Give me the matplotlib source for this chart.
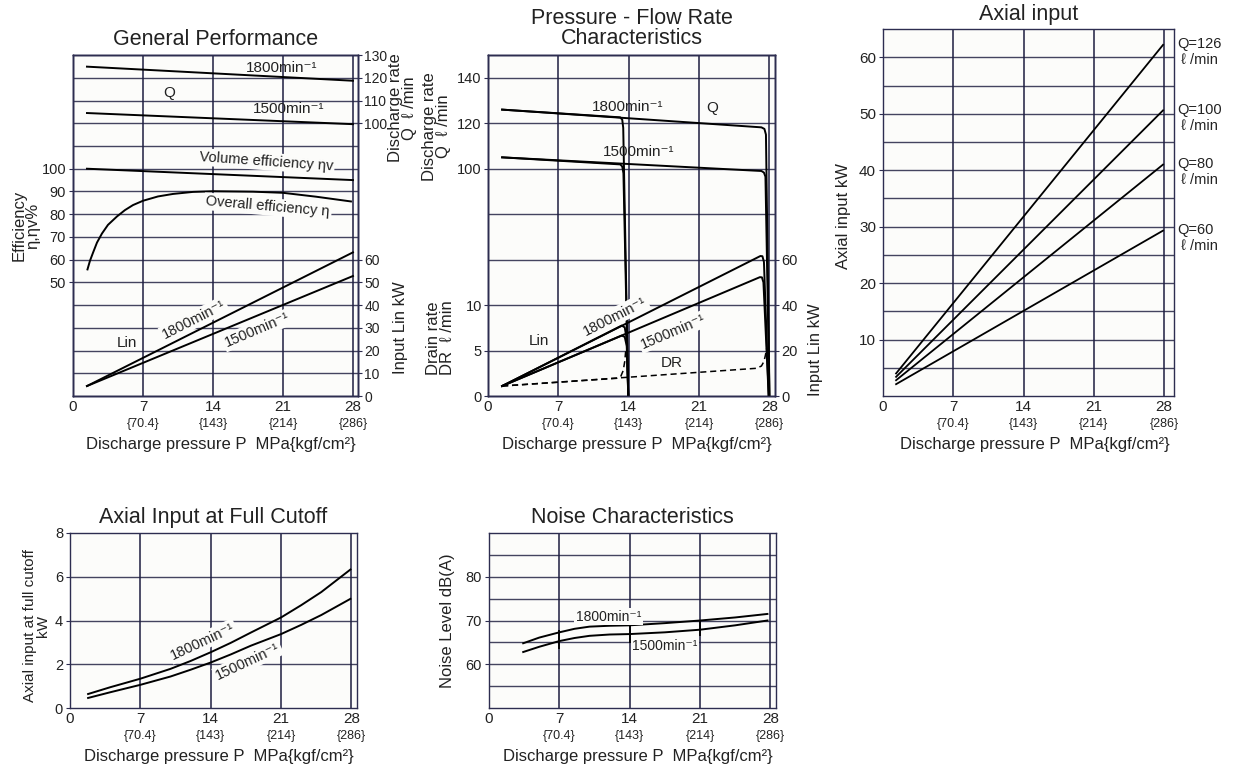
import numpy as np
import matplotlib
matplotlib.use('Agg')
import matplotlib.pyplot as plt
from matplotlib.transforms import blended_transform_factory

plt.rcParams['font.family'] = ['Liberation Sans', 'DejaVu Sans']

# ---------------- data ----------------
x_ticks = [0, 7, 14, 21, 28]
x_tick_labels = ['0', '7', '14', '21', '28']
kgf_labels = ['{70.4}', '{143}', '{214}', '{286}']

# General Performance
gp_q_p = [1.4, 28.0]
gp_q_1800 = [124.9, 118.7]
gp_q_1500 = [104.5, 99.6]
gp_ev_p = [1.4, 28.0]
gp_ev = [100.0, 95.0]
gp_eta_p = [1.45, 1.7, 2.0, 2.4, 2.9, 3.5, 4.4, 5.2, 6.0, 7.0, 8.5, 10.0, 12.0, 14.0, 16.0, 18.0, 21.0, 24.3, 27.8]
gp_eta = [55.7, 59.5, 63.0, 67.5, 71.5, 75.3, 79.0, 81.8, 84.0, 85.9, 87.8, 88.9, 89.8, 90.1, 90.0, 89.9, 89.4, 87.7, 85.6]
gp_lin_p = [1.4, 28.0]
gp_lin_1800 = [4.4, 63.2]
gp_lin_1500 = [4.4, 52.8]

# Pressure - Flow Rate Characteristics
pf_q_p14_1800 = [1.4, 13.15, 13.35, 13.45, 13.95]
pf_q1800_14 = [126.0, 122.6, 121.6, 118.0, 0.0]
pf_q_p14_1500 = [1.4, 13.15, 13.35, 13.47, 13.95]
pf_q1500_14 = [105.0, 101.9, 101.0, 98.0, 0.0]
pf_q_p28_1800 = [1.4, 27.2, 27.5, 27.65, 28.0]
pf_q1800_28 = [126.0, 118.2, 117.5, 115.0, 0.0]
pf_q_p28_1500 = [1.4, 27.2, 27.45, 27.6, 28.0]
pf_q1500_28 = [105.0, 99.0, 98.3, 96.5, 0.0]
pf_l_p14 = [1.4, 13.3, 13.6, 13.8, 13.95]
pf_l1800_14 = [4.4, 31.0, 30.2, 25.0, 0.0]
pf_l1500_14 = [4.4, 26.6, 26.0, 22.0, 0.0]
pf_l_p28_1800 = [1.4, 27.1, 27.3, 27.45, 27.92]
pf_l1800_28 = [4.4, 61.6, 61.5, 59.0, 0.0]
pf_l_p28_1500 = [1.4, 27.05, 27.25, 27.4, 27.92]
pf_l1500_28 = [4.4, 52.3, 52.2, 50.0, 0.0]
pf_dr_p14 = [1.4, 12.8, 13.2, 13.45, 13.6, 13.7]
pf_dr_14 = [1.1, 1.95, 2.15, 2.8, 3.8, 5.0]
pf_dr_p28 = [1.4, 26.7, 27.2, 27.45, 27.6, 27.7]
pf_dr_28 = [1.1, 3.05, 3.3, 3.8, 4.5, 5.2]

# Axial input
ai_p = [1.3, 27.9]
ai_q126 = [4.0, 62.2]
ai_q100 = [3.4, 50.6]
ai_q80 = [2.8, 41.0]
ai_q60 = [2.1, 29.3]
ai_labels = ['Q=126\n ℓ /min', 'Q=100\n ℓ /min', 'Q=80\n ℓ /min', 'Q=60\n ℓ /min']

# Axial input at full cutoff
fc_p = [1.8, 4.0, 7.0, 10.0, 12.0, 14.0, 16.0, 18.0, 21.0, 23.0, 25.0, 27.9]
fc_1800 = [0.64, 0.95, 1.34, 1.79, 2.15, 2.55, 2.98, 3.45, 4.14, 4.70, 5.30, 6.33]
fc_1500 = [0.46, 0.72, 1.06, 1.44, 1.75, 2.08, 2.45, 2.85, 3.38, 3.80, 4.25, 4.99]

# Noise characteristics
nz_p = [3.4, 5.0, 7.0, 8.5, 10.0, 12.0, 14.0, 17.5, 21.0, 24.5, 27.7]
nz_1800 = [64.8, 66.1, 67.3, 68.1, 68.6, 68.8, 68.9, 69.4, 70.0, 70.7, 71.5]
nz_1500 = [62.8, 64.0, 65.3, 66.0, 66.5, 66.8, 66.9, 67.3, 67.9, 68.9, 70.0]
nz_mark_p = [7, 14, 21]
nz_mark_lo = [63.4, 64.9, 66.4]
nz_mark_hi = [67.9, 69.0, 70.2]

# ---------------- style ----------------
BG = '#fcfcfa'
HG = '#44445f'
VG = '#1e1e40'
SP = '#2d2d50'
TXT = '#222222'
LW = 1.4
MIN = 'min⁻¹'

fig = plt.figure(figsize=(12.39, 7.69), dpi=100)


def base_axes(rect, xmax, ylim, hgrid, title, title_pad=7, title_ls=1.2):
    ax = fig.add_axes(rect)
    ax.set_facecolor(BG)
    ax.set_xlim(0, xmax)
    ax.set_ylim(*ylim)
    for v in hgrid:
        ax.axhline(v, color=HG, lw=1.0, zorder=1)
    for v in x_ticks[1:]:
        ax.axvline(v, color=VG, lw=1.1, zorder=1)
    ax.set_xticks(x_ticks)
    ax.set_xticklabels(x_tick_labels, fontsize=11, color=TXT)
    ax.tick_params(axis='x', length=0, pad=3)
    ax.tick_params(axis='y', length=3, width=0.8, color=SP, pad=2, labelsize=10.5, labelcolor=TXT)
    for sp in ax.spines.values():
        sp.set_color(SP)
        sp.set_linewidth(1.0)
    trans = blended_transform_factory(ax.transData, ax.transAxes)
    for xv, lab in zip(x_ticks[1:], kgf_labels):
        ax.annotate(lab, xy=(xv, 0), xycoords=trans, xytext=(0, -22.5),
                    textcoords='offset points', ha='center', va='baseline',
                    fontsize=9, color=TXT)
    ax.annotate('Discharge pressure P  MPa{kgf/cm²}', xy=(0.52, 0), xycoords='axes fraction',
                xytext=(0, -38), textcoords='offset points', ha='center', va='baseline',
                fontsize=12, color=TXT)
    ax.set_title(title, fontsize=15.5, pad=title_pad, color=TXT, linespacing=title_ls)
    return ax


def twin(ax, ylim, fs=10.5):
    t = ax.twinx()
    t.set_ylim(*ylim)
    t.tick_params(axis='y', length=3, width=0.8, color=SP, pad=1.5, labelsize=fs, labelcolor=TXT)
    for sp in t.spines.values():
        sp.set_color(SP)
        sp.set_linewidth(1.0)
    return t


def lab(ax, x, y, s, rot=0, fs=11, bg=True, transform=None):
    kw = dict(ha='center', va='center', rotation=rot, rotation_mode='anchor',
              fontsize=fs, zorder=6, color=TXT)
    if bg:
        kw['bbox'] = dict(boxstyle='square,pad=0.12', fc=BG, ec='none')
    ax.text(x, y, s, transform=transform if transform is not None else ax.transData, **kw)


def side_label(ax, x, y, s, fs=12):
    ax.text(x, y, s, transform=ax.transAxes, rotation=90, ha='center', va='center',
            multialignment='center', fontsize=fs, color=TXT, linespacing=0.92)


# ---------------- Panel 1: General Performance ----------------
ax1 = base_axes([0.0589, 0.4850, 0.2300, 0.4434], 28.5, (0, 150), range(10, 150, 10),
                'General Performance', title_pad=7)
ax1.set_yticks([50, 60, 70, 80, 90, 100])
ax1.plot(gp_ev_p, gp_ev, color='black', lw=LW, zorder=3)
ax1.plot(gp_eta_p, gp_eta, color='black', lw=LW, zorder=3)
ax1q = twin(ax1, (-20, 130), fs=10)
ax1q.set_yticks([100, 110, 120, 130])
ax1q.plot(gp_q_p, gp_q_1800, color='black', lw=LW)
ax1q.plot(gp_q_p, gp_q_1500, color='black', lw=LW)
ax1l = twin(ax1, (0, 150), fs=10)
ax1l.set_yticks([0, 10, 20, 30, 40, 50, 60])
ax1l.plot(gp_lin_p, gp_lin_1800, color='black', lw=LW)
ax1l.plot(gp_lin_p, gp_lin_1500, color='black', lw=LW)

lab(ax1l, 20.9, 144.3, '1800' + MIN, bg=False)
lab(ax1l, 9.6, 133.4, 'Q', bg=False)
lab(ax1l, 21.6, 126.2, '1500' + MIN, bg=False)
lab(ax1l, 19.3, 103.2, 'Volume efficiency ηv', rot=-4, fs=10.5)
lab(ax1l, 19.5, 83.3, 'Overall efficiency η', rot=-5, fs=10.5)
lab(ax1l, 5.4, 23.5, 'Lin', bg=False)
lab(ax1l, 12.1, 33.6, '1800' + MIN, rot=27, fs=10.5)
lab(ax1l, 18.4, 29.0, '1500' + MIN, rot=23, fs=10.5)

side_label(ax1, -0.165, 0.50, 'Efficiency\nη,ηv%')
side_label(ax1, 1.158, 0.845, 'Discharge rate\nQ  ℓ /min')
side_label(ax1, 1.15, 0.20, 'Input Lin kW')

# ---------------- Panel 2: Pressure - Flow Rate ----------------
ax2 = base_axes([0.3939, 0.4850, 0.2316, 0.4434], 28.55, (0, 150), range(20, 150, 20),
                'Pressure - Flow Rate\nCharacteristics', title_pad=8, title_ls=0.95)
ax2.set_yticks([100, 120, 140])
ax2.plot(pf_q_p14_1800, pf_q1800_14, color='black', lw=LW, zorder=3)
ax2.plot(pf_q_p14_1500, pf_q1500_14, color='black', lw=LW, zorder=3)
ax2.plot(pf_q_p28_1800, pf_q1800_28, color='black', lw=LW, zorder=3)
ax2.plot(pf_q_p28_1500, pf_q1500_28, color='black', lw=LW, zorder=3)
ax2d = twin(ax2, (0, 37.5))
ax2d.yaxis.tick_left()
ax2d.set_yticks([0, 5, 10])
ax2d.plot(pf_dr_p14, pf_dr_14, color='black', lw=1.1, ls=(0, (4, 2.5)))
ax2d.plot(pf_dr_p28, pf_dr_28, color='black', lw=1.1, ls=(0, (4, 2.5)))
ax2l = twin(ax2, (0, 150))
ax2l.set_yticks([0, 20, 40, 60])
ax2l.plot(pf_l_p14, pf_l1800_14, color='black', lw=LW)
ax2l.plot(pf_l_p14, pf_l1500_14, color='black', lw=LW)
ax2l.plot(pf_l_p28_1800, pf_l1800_28, color='black', lw=LW)
ax2l.plot(pf_l_p28_1500, pf_l1500_28, color='black', lw=LW)

lab(ax2l, 13.85, 127.3, '1800' + MIN, bg=False)
lab(ax2l, 22.3, 126.5, 'Q', bg=False)
lab(ax2l, 14.95, 107.5, '1500' + MIN, bg=False)
lab(ax2l, 5.05, 24.3, 'Lin', bg=False)
lab(ax2l, 12.6, 35.0, '1800' + MIN, rot=27, fs=10.5)
lab(ax2l, 18.4, 28.3, '1500' + MIN, rot=23, fs=10.5)
lab(ax2l, 18.3, 14.7, 'DR', bg=False)

side_label(ax2, -0.18, 0.79, 'Discharge rate\nQ  ℓ /min')
side_label(ax2, -0.165, 0.17, 'Drain rate\nDR  ℓ /min')
side_label(ax2, 1.14, 0.135, 'Input Lin kW')

# ---------------- Panel 3: Axial input ----------------
ax3 = base_axes([0.7127, 0.4850, 0.2349, 0.4772], 29.0, (0, 65), range(5, 65, 5),
                'Axial input', title_pad=6.5)
ax3.set_yticks([10, 20, 30, 40, 50, 60])
ax3.tick_params(axis='y', labelsize=11)
for ys in (ai_q126, ai_q100, ai_q80, ai_q60):
    ax3.plot(ai_p, ys, color='black', lw=1.3, zorder=3)
t3 = blended_transform_factory(ax3.transAxes, ax3.transData)
for ys, s in zip((ai_q126, ai_q100, ai_q80, ai_q60), ai_labels):
    ax3.text(1.01, ys[-1] - 1.3, s, transform=t3, ha='left', va='center', fontsize=10.5,
             color=TXT, linespacing=1.15)
side_label(ax3, -0.137, 0.49, 'Axial input kW')

# ---------------- Panel 4: Axial Input at Full Cutoff ----------------
ax4 = base_axes([0.0565, 0.0793, 0.2316, 0.2276], 28.55, (0, 8), [2, 4, 6],
                'Axial Input at Full Cutoff', title_pad=7)
ax4.set_yticks([0, 2, 4, 6, 8])
ax4.plot(fc_p, fc_1800, color='black', lw=LW, zorder=3)
ax4.plot(fc_p, fc_1500, color='black', lw=LW, zorder=3)
lab(ax4, 13.2, 3.05, '1800' + MIN, rot=25, fs=10.5)
lab(ax4, 17.7, 2.12, '1500' + MIN, rot=25, fs=10.5)
side_label(ax4, -0.118, 0.47, 'Axial input at full cutoff\nkW', fs=11)

# ---------------- Panel 5: Noise Characteristics ----------------
ax5 = base_axes([0.3947, 0.0793, 0.2316, 0.2276], 28.55, (50, 90), range(55, 90, 5),
                'Noise Characteristics', title_pad=7)
ax5.set_yticks([60, 70, 80])
ax5.plot(nz_p, nz_1800, color='black', lw=LW, zorder=3)
ax5.plot(nz_p, nz_1500, color='black', lw=LW, zorder=3)
ax5.vlines(nz_mark_p, nz_mark_lo, nz_mark_hi, color='black', lw=1.3, zorder=3)
lab(ax5, 11.9, 70.9, '1800' + MIN, fs=10)
lab(ax5, 17.5, 64.2, '1500' + MIN, fs=10)
side_label(ax5, -0.143, 0.50, 'Noise Level dB(A)')

fig.savefig('out.png', dpi=100)
